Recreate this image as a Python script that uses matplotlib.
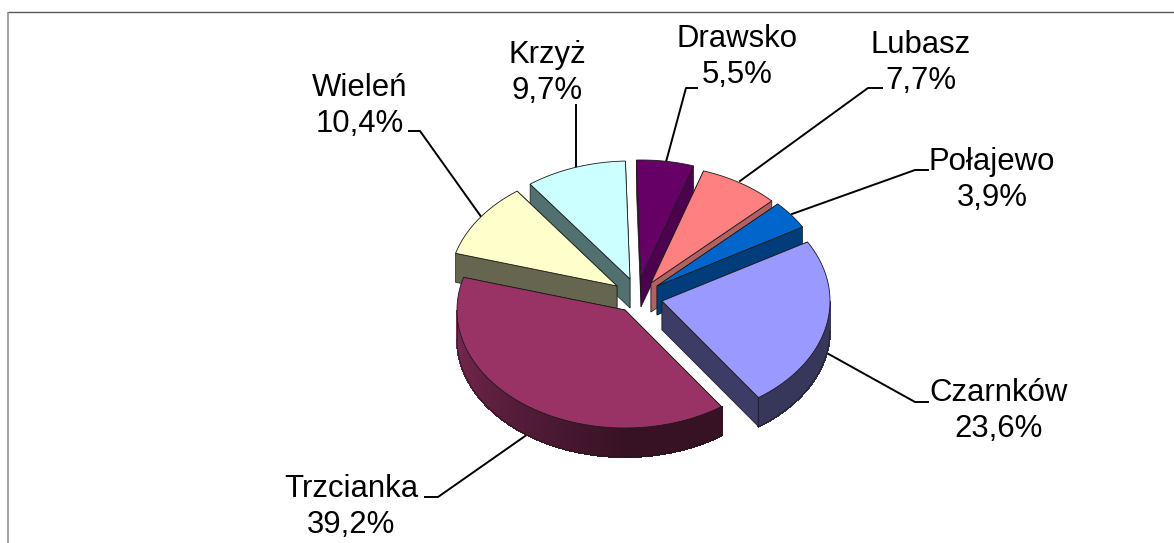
import numpy as np
import matplotlib
matplotlib.use('Agg')
import matplotlib.pyplot as plt
from matplotlib.patches import Polygon

plt.rcParams['font.family'] = ['Liberation Sans', 'DejaVu Sans']

# dane: udzial gmin, kolejnosc zgodnie z ruchem wskazowek zegara od Czarnkowa
names = ['Czarnków', 'Trzcianka', 'Wieleń', 'Krzyż', 'Drawsko', 'Lubasz', 'Połajewo']
shares = [23.6, 39.2, 10.4, 9.7, 5.5, 7.7, 3.9]
share_labels = ['23,6%', '39,2%', '10,4%', '9,7%', '5,5%', '7,7%', '3,9%']

colors = ['#9999ff', '#993366', '#ffffcc', '#ccffff', '#660066', '#ff8080', '#0066cc']
wall_colors = ['#3c3c66', '#3d1429', '#666650', '#527070', '#4d004d', '#b26060', '#003d7a']

# geometria w pikselach obrazka
START = 30.0
RX, RY, DEPTH = 168, 118, 29
apex_x = [662, 625, 617, 630, 641, 651, 657]
apex_y = [301, 310, 286, 279, 278, 283, 286]
draw_order = [3, 4, 5, 6, 2, 0, 1]  # od tylu do przodu

label_x = [999, 351, 360, 547, 737, 921, 992]
label_y = [411, 507, 106, 73, 57, 63, 180]
leader_x = [[825, 915, 928], [528, 438, 425], [482, 420, 409], [576, 576], [666, 686, 697], [740, 868, 882], [792, 915, 928]]
leader_y = [[352, 402, 402], [434, 497, 497], [218, 131, 131], [168, 105], [162, 88, 88], [181, 88, 88], [214, 170, 170]]


def shade(hex_color, f):
    rgb = np.array(matplotlib.colors.to_rgb(hex_color))
    return tuple(rgb * f)


def rim_factor(a):
    # lewa strona sciany jasniejsza, prawa ciemna
    a = (a + 360) % 360
    if a > 270:
        return 0.36
    return np.interp(a, [180, 270], [0.8, 0.36])


fig = plt.figure(figsize=(11.74, 5.43), dpi=100)
ax = fig.add_axes([0, 0, 1, 1])
ax.set_xlim(0, 1174)
ax.set_ylim(543, 0)
ax.axis('off')

# ramka wykresu
ax.plot([8, 8], [12, 543], color='#a6a6a6', lw=1.5, solid_capstyle='butt')
ax.plot([8, 1174], [12, 12], color='#595959', lw=1.0, solid_capstyle='butt')

for i in range(len(names)):
    ax.plot(leader_x[i], leader_y[i], color='black', lw=1.4, zorder=1)
    ax.text(label_x[i], label_y[i], names[i] + '\n' + share_labels[i], fontsize=22.4, ha='center',
            va='center', linespacing=1.22, color='black', zorder=5)

angles = START - np.cumsum([0] + shares) * 3.6
z = 2
for i in draw_order:
    a1, a0 = angles[i + 1], angles[i]
    cx, cy = apex_x[i], apex_y[i]
    t = np.radians(np.linspace(a0, a1, 200))
    ex = cx + RX * np.cos(t)
    ey = cy - RY * np.sin(t)

    # sciany przy wierzcholku: najpierw ta, ktorej koniec jest wyzej
    ends = sorted([(ey[0], ex[0]), (ey[-1], ex[-1])])
    for py, px in ends:
        wall = [(cx, cy), (px, py), (px, py + DEPTH), (cx, cy + DEPTH)]
        ax.add_patch(Polygon(wall, closed=True, fc=wall_colors[i], ec='#1a1a1a', lw=0.5, zorder=z))

    # sciana zewnetrzna, tylko tam gdzie widac (dolna polowa elipsy)
    vis = np.sin(t) < 0
    if vis.any():
        tv, xv, yv = t[vis], ex[vis], ey[vis]
        for k in range(len(tv) - 1):
            f = rim_factor(np.degrees(tv[k]))
            col = shade(colors[i], f)
            q = [(xv[k], yv[k]), (xv[k + 1], yv[k + 1]), (xv[k + 1], yv[k + 1] + DEPTH), (xv[k], yv[k] + DEPTH)]
            ax.add_patch(Polygon(q, closed=True, fc=col, ec=col, lw=0.8, antialiased=False, zorder=z))
        ax.plot(xv, yv + DEPTH, color='#1a1a1a', lw=0.5, zorder=z)
        ax.plot([xv[-1], xv[-1]], [yv[-1], yv[-1] + DEPTH], color='#1a1a1a', lw=0.5, zorder=z)

    # wierzch
    top = np.column_stack([np.r_[cx, ex], np.r_[cy, ey]])
    ax.add_patch(Polygon(top, closed=True, fc=colors[i], ec='#1a1a1a', lw=0.6, zorder=z))
    z += 0.1

fig.savefig('out.png', dpi=100)
